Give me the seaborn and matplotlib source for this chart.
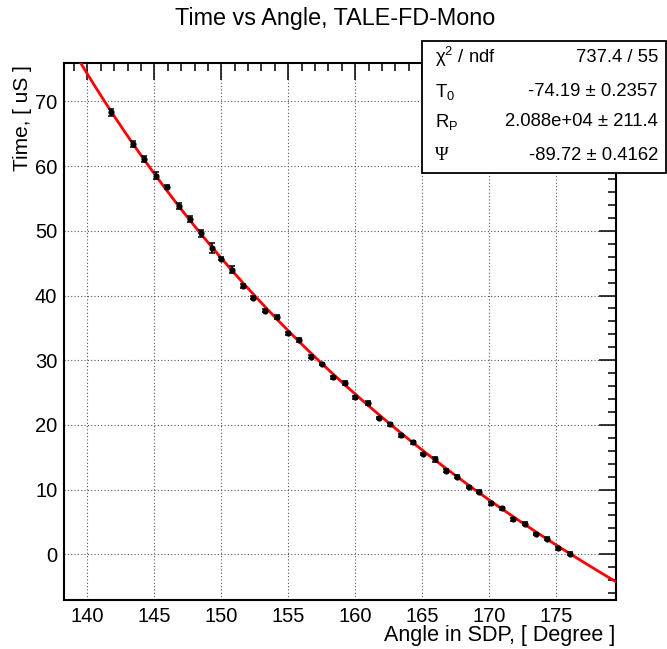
import numpy as np
import pandas as pd
import matplotlib
matplotlib.use("Agg")
import matplotlib.pyplot as plt
import seaborn as sns
from matplotlib.ticker import MultipleLocator
from matplotlib.patches import Rectangle

# ---- data ----
angle = [141.75, 143.41, 144.23, 145.10, 145.95, 146.84, 147.66, 148.46, 149.30, 149.95,
         150.78, 151.60, 152.40, 153.28, 154.13, 154.98, 155.82, 156.69, 157.54, 158.36,
         159.20, 160.00, 160.93, 161.75, 162.59, 163.43, 164.28, 165.10, 165.95, 166.79,
         167.64, 168.47, 169.28, 170.13, 170.97, 171.79, 172.66, 173.49, 174.33, 175.18,
         176.02]
time_us = [68.36, 63.41, 61.15, 58.55, 56.73, 53.87, 51.81, 49.64, 47.32, 45.72,
           44.02, 41.45, 39.68, 37.67, 36.65, 34.18, 33.14, 30.56, 29.43, 27.37,
           26.54, 24.28, 23.35, 21.08, 20.10, 18.40, 17.32, 15.47, 14.69, 12.93,
           12.00, 10.41, 9.67, 7.89, 7.11, 5.41, 4.73, 3.14, 2.41, 0.93,
           0.09]
time_err = [0.55, 0.50, 0.45, 0.50, 0.30, 0.50, 0.45, 0.55, 0.80, 0.30,
            0.50, 0.30, 0.25, 0.25, 0.35, 0.25, 0.30, 0.20, 0.20, 0.20,
            0.30, 0.25, 0.35, 0.20, 0.20, 0.20, 0.20, 0.20, 0.35, 0.20,
            0.20, 0.20, 0.25, 0.20, 0.20, 0.20, 0.20, 0.20, 0.25, 0.20,
            0.20]

# fit parameters shown in the stats box
T0 = -74.19
RP = 2.088e4        # metres
PSI = -89.72        # degrees
C_LIGHT = 299.792458  # metres per microsecond

stat_labels = ["χ$^2$ / ndf", "T$_{0}$", "R$_\\mathrm{P}$", "Ψ"]
stat_values = ["737.4 / 55", "-74.19 ± 0.2357", "2.088e+04 ± 211.4", "-89.72 ± 0.4162"]

title = "Time vs Angle, TALE-FD-Mono"
xlabel = "Angle in SDP, [ Degree ]"
ylabel = "Time, [ uS ]"

df = pd.DataFrame({"angle": angle, "time": time_us, "err": time_err})

# ---- style ----
sns.set_theme(style="white")
plt.rcParams["font.family"] = ["Liberation Sans", "DejaVu Sans"]
plt.rcParams["text.color"] = "black"
plt.rcParams["mathtext.fontset"] = "custom"
plt.rcParams["mathtext.rm"] = "Liberation Sans"
plt.rcParams["mathtext.it"] = "Liberation Sans:italic"
plt.rcParams["mathtext.bf"] = "Liberation Sans:bold"

W, H = 667, 649
fig = plt.figure(figsize=(W / 100, H / 100), dpi=100)
fig.patch.set_facecolor("white")
L, R, T, B = 64.3, 616.0, 63.3, 600.0
ax = fig.add_axes([L / W, 1 - B / H, (R - L) / W, (B - T) / H])
ax.set_facecolor("white")

XMIN, XMAX = 138.27, 179.48
ax.set_xlim(XMIN, XMAX)
ax.set_ylim(-7.07, 75.9)

# fit curve
x_fit = np.linspace(XMIN, XMAX, 500)
t_fit = T0 + RP / C_LIGHT * np.tan(np.deg2rad((180.0 - PSI - x_fit) / 2.0))
sns.lineplot(x=x_fit, y=t_fit, color="red", linewidth=2.0, ax=ax, zorder=3)

# data with error bars
ax.errorbar(df["angle"], df["time"], yerr=df["err"], fmt="none", ecolor="black",
            elinewidth=1.1, capsize=2.3, capthick=1.1, zorder=4)
sns.scatterplot(data=df, x="angle", y="time", color="black", s=20, linewidth=0,
                ax=ax, zorder=5)

ax.set_xlabel("")
ax.set_ylabel("")

ax.xaxis.set_major_locator(MultipleLocator(5))
ax.xaxis.set_minor_locator(MultipleLocator(1))
ax.yaxis.set_major_locator(MultipleLocator(10))
ax.yaxis.set_minor_locator(MultipleLocator(2))
ax.grid(True, which="major", linestyle=(0, (1, 2)), color="#555555", linewidth=0.8)
ax.tick_params(which="both", direction="in", top=True, right=True, color="black",
               width=1.1, labelsize=14.5, labelcolor="black")
ax.tick_params(which="major", length=12.5, pad=5)
ax.tick_params(which="minor", length=6)
for s in ax.spines.values():
    s.set_visible(True)
    s.set_color("black")
    s.set_linewidth(1.5)

# titles and axis labels (ROOT layout)
fig.text(334.7 / W, 1 - 25 / H, title, ha="center", va="baseline", fontsize=16.8,
         color="black")
fig.text(615 / W, 1 - 641 / H, xlabel, ha="right", va="baseline", fontsize=15.5,
         color="black")
fig.text(23 / W, 1 - 65 / H, ylabel, ha="center", va="top", rotation=90, fontsize=15,
         color="black")

# stats box
fig.add_artist(Rectangle((422 / W, 1 - 173 / H), 244 / W, 132 / H,
                         transform=fig.transFigure, facecolor="white",
                         edgecolor="black", linewidth=1.3, zorder=10))
row_y = [57, 92, 122, 155]
for lab, val, yy in zip(stat_labels, stat_values, row_y):
    fam = ["Liberation Serif", "DejaVu Serif"] if lab == "Ψ" else ["Liberation Sans", "DejaVu Sans"]
    fig.text(435 / W, 1 - yy / H, lab, ha="left", va="center", fontsize=13.3,
             family=fam, color="black", zorder=11)
    fig.text(658 / W, 1 - yy / H, val, ha="right", va="center", fontsize=13.3,
             color="black", zorder=11)

fig.savefig("out.png", dpi=100)
